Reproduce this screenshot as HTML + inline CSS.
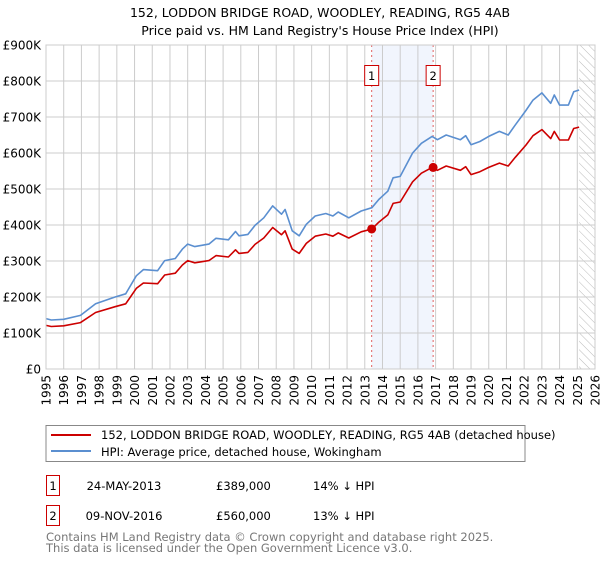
<!DOCTYPE html>
<html><head><meta charset="utf-8"><style>
body{margin:0;background:#fff;font-family:"Liberation Sans","DejaVu Sans",sans-serif}
svg text{font-family:"DejaVu Sans","Liberation Sans",sans-serif}
</style></head><body>
<svg id="c" width="600" height="560" xmlns="http://www.w3.org/2000/svg">
<text x="320" y="17" text-anchor="middle" font-size="12.5">152, LODDON BRIDGE ROAD, WOODLEY, READING, RG5 4AB</text>
<text x="320" y="35" text-anchor="middle" font-size="12.5">Price paid vs. HM Land Registry's House Price Index (HPI)</text>
<g id="plot"></g>
<g>
<rect x="46" y="425.5" width="479" height="36" fill="#fff" stroke="#888"/>
<line x1="51" y1="435" x2="91" y2="435" stroke="#cc0000" stroke-width="2"/>
<text x="101" y="439" font-size="11.5">152, LODDON BRIDGE ROAD, WOODLEY, READING, RG5 4AB (detached house)</text>
<line x1="51" y1="451" x2="91" y2="451" stroke="#5b8fd0" stroke-width="2"/>
<text x="101" y="456" font-size="11.5">HPI: Average price, detached house, Wokingham</text>
</g>
<g font-size="11.5">
<rect x="46.5" y="475.5" width="13" height="20" fill="#fff" stroke="#cc0000"/>
<text x="53" y="490" text-anchor="middle">1</text>
<text x="124" y="490" text-anchor="middle">24-MAY-2013</text>
<text x="216" y="490">£389,000</text>
<text x="313" y="490">14% ↓ HPI</text>
<rect x="46.5" y="505.5" width="13" height="20" fill="#fff" stroke="#cc0000"/>
<text x="53" y="520" text-anchor="middle">2</text>
<text x="124" y="520" text-anchor="middle">09-NOV-2016</text>
<text x="216" y="520">£560,000</text>
<text x="313" y="520">13% ↓ HPI</text>
</g>
<text x="46" y="541" font-size="11.5" fill="#777">Contains HM Land Registry data © Crown copyright and database right 2025.</text>
<text x="46" y="552" font-size="11.5" fill="#777">This data is licensed under the Open Government Licence v3.0.</text>
</svg>
<script>
const hpiYears=[1995,1995.3,1996,1996.95,1997.8,1998.9,1999.5,2000.1,2000.5,2001.3,2001.7,2002.3,2002.7,2003.0,2003.4,2004.2,2004.6,2005.3,2005.7,2005.9,2006.4,2006.8,2007.3,2007.8,2008.3,2008.5,2008.9,2009.3,2009.7,2010.2,2010.8,2011.2,2011.5,2012.1,2012.8,2013.4,2013.8,2014.3,2014.6,2015.0,2015.7,2016.2,2016.8,2017.1,2017.6,2018.4,2018.7,2019.0,2019.5,2020.0,2020.6,2021.1,2021.5,2022.1,2022.5,2023.0,2023.5,2023.7,2024.0,2024.5,2024.8,2025.1];
const hpiValues=[140,136,138,149,181,200,209,259,276,273,301,307,333,347,340,347,363,359,382,370,374,399,420,453,430,443,384,370,402,425,432,425,436,420,439,448,471,494,531,535,600,627,646,637,650,637,648,623,632,646,660,650,678,718,747,767,738,761,733,733,770,775];
const ppValues=[121,118,120,129,157,173,181,224,239,237,261,266,289,301,295,301,315,311,331,321,324,346,364,393,373,384,333,321,349,369,375,369,378,364,381,389,408,428,460,464,520,544,560,552,564,552,562,540,548,560,572,564,588,622,648,665,640,660,636,636,668,672];
const saleYears=[2013.39,2016.86];
const salePrices=[389,560];
const yTicks=[0,100,200,300,400,500,600,700,800,900];
const yTickLabels=["£0","£100K","£200K","£300K","£400K","£500K","£600K","£700K","£800K","£900K"];
const xTicks=[];for(let y=1995;y<=2026;y++)xTicks.push(y);

const L=46,R=595,T=45,B=369,X0=1995,X1=2026;
const sx=v=>L+(v-X0)/(X1-X0)*(R-L);
const sy=v=>B-v/900*(B-T);
const NS="http://www.w3.org/2000/svg";
const g=document.getElementById('plot');
function mk(t,a,p){const e=document.createElementNS(NS,t);for(const k in a)e.setAttribute(k,a[k]);(p||g).appendChild(e);return e;}
// shaded region
let sh=mk('rect',{x:sx(saleYears[0]),y:T,width:sx(saleYears[1])-sx(saleYears[0]),height:B-T,fill:'#eef3fc',opacity:0.8});


// hatch
const defs=mk('defs',{});
const pat=mk('pattern',{id:'h',width:6,height:6,patternUnits:'userSpaceOnUse',patternTransform:'rotate(-45)'},defs);
mk('line',{x1:0,y1:0,x2:0,y2:6,stroke:'#bbb','stroke-width':1},pat);
let hr=mk('rect',{x:sx(2025.1),y:T,width:R-sx(2025.1),height:B-T,fill:'url(#h)'});


// grid
xTicks.forEach(y=>{const l=mk('line',{x1:sx(y),y1:T,x2:sx(y),y2:B,stroke:'#ccc'});


const t=mk('text',{x:0,y:0,'font-size':12,'text-anchor':'end',transform:`translate(${sx(y)+4.5},${B+6}) rotate(-90)`});t.textContent=y;

});
yTicks.forEach((v,i)=>{const l=mk('line',{x1:L,y1:sy(v),x2:R,y2:sy(v),stroke:'#ccc'});


const t=mk('text',{x:L-5,y:sy(v)+4.5,'font-size':12,'text-anchor':'end'});t.textContent=yTickLabels[i];

});
// sale vlines
saleYears.forEach((y,i)=>{const l=mk('line',{x1:sx(y),y1:T,x2:sx(y),y2:B,stroke:'#e06060','stroke-dasharray':'2,3'});


const b=mk('rect',{x:sx(y)-7,y:65.5,width:14,height:20,fill:'#fff',stroke:'#cc0000'});


const t=mk('text',{x:sx(y),y:80,'font-size':11.5,'text-anchor':'middle'});t.textContent=i+1;

});
function line(vals,col,name){const d=hpiYears.map((y,i)=>(i?'L':'M')+sx(y).toFixed(1)+','+sy(vals[i]).toFixed(1)).join('');
const p=mk('path',{d,fill:'none',stroke:col,'stroke-width':1.6,'stroke-linejoin':'round'});

}
line(hpiValues,'#5b8fd0','hpi-line');
line(ppValues,'#cc0000','price-paid-line');
saleYears.forEach((y,i)=>{const c=mk('circle',{cx:sx(y),cy:sy(salePrices[i]),r:4.5,fill:'#cc0000'});

});
const br=mk('rect',{x:L,y:T,width:R-L,height:B-T,fill:'none',stroke:'#ccc'});


</script>
</body></html>
